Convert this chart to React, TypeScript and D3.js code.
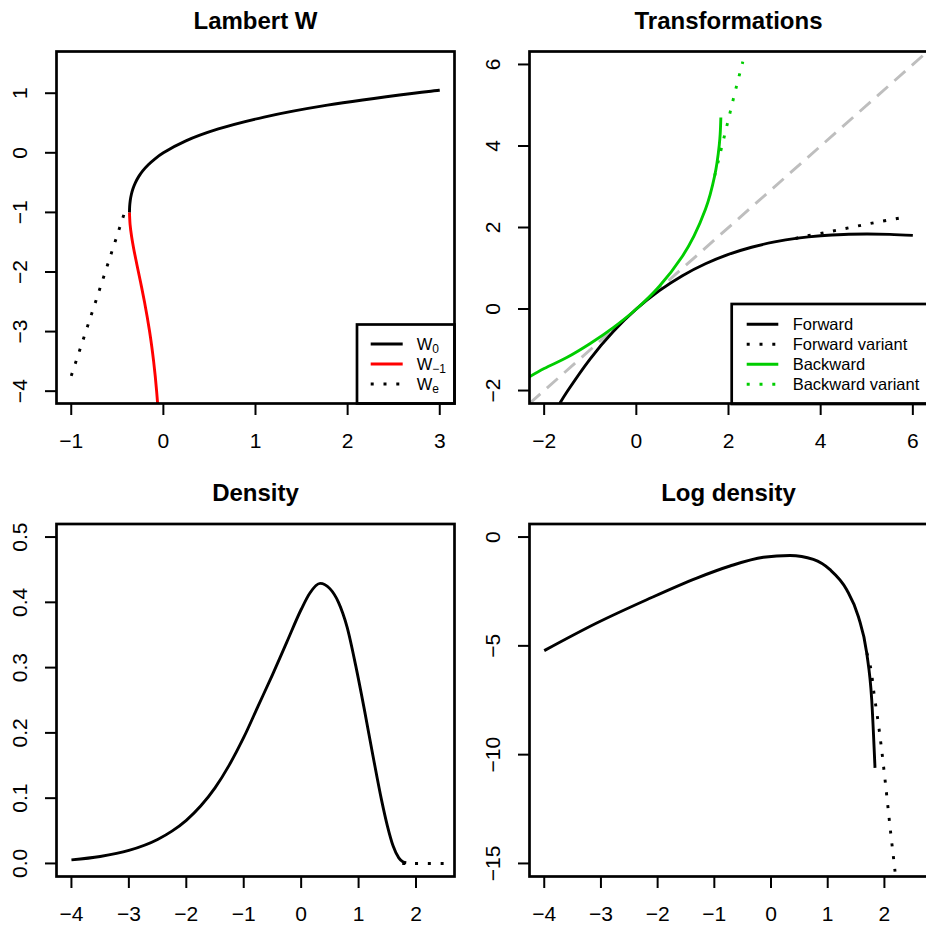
import React from 'react';
import * as d3 from 'd3';

const WIDTH = 926;
const HEIGHT = 925;
const FONT = "'Liberation Sans', Arial, Helvetica, sans-serif";

// ---------- Panel 1: Lambert W ----------
const w0X = [-0.3679, -0.3659, -0.3595, -0.3476, -0.3293, -0.3033, -0.2681, -0.2222, -0.1637, -0.0905, 0, 0.2443, 0.5967, 1.0933, 1.7804, 2.7183, 3.0];
const w0Y = [-1, -0.9, -0.8, -0.7, -0.6, -0.5, -0.4, -0.3, -0.2, -0.1, 0, 0.2, 0.4, 0.6, 0.8, 1.0, 1.05];
const wm1X = [-0.3679, -0.3614, -0.3452, -0.323, -0.2975, -0.2707, -0.2371, -0.2052, -0.1758, -0.1494, -0.126, -0.1057, -0.0882, -0.0733, -0.0606];
const wm1Y = [-1, -1.2, -1.4, -1.6, -1.8, -2, -2.25, -2.5, -2.75, -3, -3.25, -3.5, -3.75, -4, -4.25];
const weX = [-1, -0.741, -0.397];
const weY = [-3.744, -2.525, -0.887];
const p1XTicks = [-1, 0, 1, 2, 3];
const p1YTicks = [-4, -3, -2, -1, 0, 1];

// ---------- Panel 2: Transformations ----------
const fwdX = [-1.66, -1.5, -1, -0.5, 0, 0.5, 1, 1.5, 2, 2.5, 3, 3.5, 4, 4.5, 5, 5.5, 6];
const fwdY = [-2.314, -2.025, -1.221, -0.553, 0, 0.452, 0.819, 1.111, 1.341, 1.516, 1.646, 1.738, 1.797, 1.83, 1.839, 1.831, 1.807];
const fwdVarX = [3.45, 3.59, 4.13, 4.67, 5.21, 5.76];
const fwdVarY = [1.73, 1.77, 1.884, 2.006, 2.129, 2.241];
const bwdX = [-2.318, -2, -1.5, -1, -0.5, 0, 0.5, 1, 1.25, 1.5, 1.6, 1.7, 1.75, 1.8, 1.82, 1.834];
const bwdY = [-1.662, -1.461, -1.184, -0.845, -0.456, 0, 0.559, 1.296, 1.787, 2.447, 2.801, 3.268, 3.583, 4.025, 4.3, 4.7];
const bwdVarX = [1.7, 1.784, 1.912, 2.042, 2.173, 2.311];
const bwdVarY = [3.27, 3.653, 4.248, 4.859, 5.464, 6.068];
const identX = [-2.318, 6.318];
const p2Ticks = [-2, 0, 2, 4, 6];

// ---------- Panel 3: Density ----------
const densX = [-4.0, -3.5, -3.0, -2.5, -2.25, -2.0, -1.75, -1.5, -1.25, -1.0, -0.75, -0.5, -0.25, 0.0, 0.15, 0.33, 0.5, 0.65, 0.8, 0.95, 1.1, 1.25, 1.4, 1.5, 1.6, 1.7, 1.77, 1.83];
const densY = [0.0055, 0.0106, 0.0199, 0.0367, 0.0495, 0.0661, 0.088, 0.1158, 0.151, 0.193, 0.241, 0.289, 0.339, 0.389, 0.414, 0.429, 0.421, 0.4, 0.362, 0.303, 0.236, 0.165, 0.097, 0.058, 0.027, 0.0085, 0.0025, 0.001];
const densVarX = [1.76, 2.5];
const densVarY = [0, 0];
const p3XTicks = [-4, -3, -2, -1, 0, 1, 2];
const p3YTicks = [0, 0.1, 0.2, 0.3, 0.4, 0.5];

// ---------- Panel 4: Log density ----------
const ldX = [-4.0, -3.074, -2.192, -1.31, -0.723, -0.135, 0.335, 0.746, 1.041, 1.335, 1.54, 1.688, 1.776, 1.834];
const ldY = [-5.22, -3.95, -2.88, -1.885, -1.33, -0.93, -0.845, -1.03, -1.5, -2.42, -3.65, -5.33, -7.47, -10.61];
const ldVarX = [1.69, 1.758, 1.817, 1.882, 1.94, 2.016, 2.111, 2.187, 2.21];
const ldVarY = [-5.33, -6.02, -7.2, -8.36, -9.53, -11.27, -13.6, -15.36, -16];
const p4XTicks = [-4, -3, -2, -1, 0, 1, 2];
const p4YTicks = [-15, -10, -5, 0];

const legend1 = ['0', '\u22121', 'e'];
const legend2 = ['Forward', 'Forward variant', 'Backward', 'Backward variant'];

const LW = 2.9;
const DOT = '3 9.8';
const DASH = '14.5 8.7';
const TICK_FS = 21;
const LEG_FS = 16.5;

type Box = { l: number; r: number; t: number; b: number };
type Sc = d3.ScaleLinear<number, number>;

const fmtMinus = (v: number, digits = 0) => {
  const s = digits > 0 ? Math.abs(v).toFixed(digits) : String(Math.abs(v));
  return v < 0 ? '\u2212' + s : s;
};

function linePath(xs: number[], ys: number[], x: Sc, y: Sc, curve: d3.CurveFactory = d3.curveCatmullRom.alpha(0.5)) {
  return d3
    .line<number>()
    .x((_, i) => x(xs[i]))
    .y((_, i) => y(ys[i]))
    .curve(curve)(xs) as string;
}

function Panel(props: {
  id: string;
  box: Box;
  xDom: [number, number];
  yDom: [number, number];
  xTicks: number[];
  yTicks: number[];
  yDigits?: number;
  title: string;
  render: (x: Sc, y: Sc) => React.ReactNode;
  overlay?: (x: Sc, y: Sc) => React.ReactNode;
}) {
  const { id, box, xDom, yDom, xTicks, yTicks, yDigits = 0, title, render, overlay } = props;
  const x = d3.scaleLinear().domain(xDom).range([box.l, box.r]);
  const y = d3.scaleLinear().domain(yDom).range([box.b, box.t]);
  const cx = (box.l + box.r) / 2;
  return (
    <g>
      <defs>
        <clipPath id={id}>
          <rect x={box.l} y={box.t} width={box.r - box.l} height={box.b - box.t} />
        </clipPath>
      </defs>
      <text x={cx} y={box.t - 23} textAnchor="middle" fontFamily={FONT} fontWeight="bold" fontSize={24}>
        {title}
      </text>
      <g clipPath={`url(#${id})`}>{render(x, y)}</g>
      {overlay ? overlay(x, y) : null}
      <rect x={box.l} y={box.t} width={box.r - box.l} height={box.b - box.t} fill="none" stroke="#000" strokeWidth={2.7} />
      {xTicks.map((t) => (
        <g key={'x' + t}>
          <line x1={x(t)} x2={x(t)} y1={box.b} y2={box.b + 11.5} stroke="#000" strokeWidth={2} />
          <text x={x(t)} y={box.b + 44.5} textAnchor="middle" fontFamily={FONT} fontSize={TICK_FS}>
            {fmtMinus(t)}
          </text>
        </g>
      ))}
      {yTicks.map((t) => (
        <g key={'y' + t}>
          <line x1={box.l - 11.5} x2={box.l} y1={y(t)} y2={y(t)} stroke="#000" strokeWidth={2} />
          <text
            transform={`translate(${box.l - 29.5},${y(t)}) rotate(-90)`}
            textAnchor="middle"
            fontFamily={FONT}
            fontSize={TICK_FS}
          >
            {fmtMinus(t, yDigits)}
          </text>
        </g>
      ))}
    </g>
  );
}

export default function App() {
  const leftCol = { l: 56.5, r: 454.5 };
  const rightCol = { l: 529.5, r: 927.5 };
  const topRow = { t: 51.5, b: 403.5 };
  const botRow = { t: 524, b: 876.5 };

  const p1Legend = (
    <g>
      <rect x={357} y={324.5} width={454.5 - 357} height={403.5 - 324.5} fill="#fff" stroke="#000" strokeWidth={2.7} />
      {legend1.map((sub, i) => {
        const yy = 344 + i * 20;
        const color = i === 1 ? '#FF0000' : '#000';
        return (
          <g key={sub}>
            <line x1={370.7} x2={402.7} y1={yy} y2={yy} stroke={color} strokeWidth={LW} strokeDasharray={i === 2 ? DOT : undefined} />
            <text x={416.7} y={yy + 6} fontFamily={FONT} fontSize={LEG_FS}>
              W
              <tspan fontSize={12} dy={3}>
                {sub}
              </tspan>
            </text>
          </g>
        );
      })}
    </g>
  );

  const p2Legend = (
    <g>
      <rect x={731.7} y={304} width={927.5 - 731.7} height={404 - 304} fill="#fff" stroke="#000" strokeWidth={2.7} />
      {legend2.map((lab, i) => {
        const yy = 324.3 + i * 20;
        const color = i < 2 ? '#000' : '#00CD00';
        return (
          <g key={lab}>
            <line x1={746.7} x2={778.3} y1={yy} y2={yy} stroke={color} strokeWidth={LW} strokeDasharray={i % 2 === 1 ? DOT : undefined} />
            <text x={792.7} y={yy + 5.8} fontFamily={FONT} fontSize={LEG_FS}>
              {lab}
            </text>
          </g>
        );
      })}
    </g>
  );

  return (
    <svg
      width={WIDTH}
      height={HEIGHT}
      style={{ position: 'absolute', left: 0, top: 0, background: '#fff' }}
      xmlns="http://www.w3.org/2000/svg"
    >
      <rect x={0} y={0} width={WIDTH} height={HEIGHT} fill="#fff" />
      <Panel
        id="c1"
        box={{ ...leftCol, ...topRow }}
        xDom={[-1.16, 3.16]}
        yDom={[-4.207, 1.7]}
        xTicks={p1XTicks}
        yTicks={p1YTicks}
        title="Lambert W"
        render={(x, y) => (
          <g fill="none" strokeWidth={LW}>
            <path d={linePath(wm1X, wm1Y, x, y)} stroke="#FF0000" />
            <path d={linePath(weX, weY, x, y, d3.curveLinear)} stroke="#000" strokeDasharray={DOT} />
            <path d={linePath(w0X, w0Y, x, y)} stroke="#000" />
          </g>
        )}
        overlay={() => p1Legend}
      />
      <Panel
        id="c2"
        box={{ ...rightCol, ...topRow }}
        xDom={[-2.318, 6.318]}
        yDom={[-2.318, 6.318]}
        xTicks={p2Ticks}
        yTicks={p2Ticks}
        title="Transformations"
        render={(x, y) => (
          <g fill="none" strokeWidth={LW}>
            <path d={linePath(identX, identX, x, y, d3.curveLinear)} stroke="#BEBEBE" strokeDasharray={DASH} />
            <path d={linePath(fwdX, fwdY, x, y)} stroke="#000" />
            <path d={linePath(fwdVarX, fwdVarY, x, y)} stroke="#000" strokeDasharray={DOT} />
            <path d={linePath(bwdX, bwdY, x, y)} stroke="#00CD00" />
            <path d={linePath(bwdVarX, bwdVarY, x, y)} stroke="#00CD00" strokeDasharray={DOT} />
          </g>
        )}
        overlay={() => p2Legend}
      />
      <Panel
        id="c3"
        box={{ ...leftCol, ...botRow }}
        xDom={[-4.26, 2.67]}
        yDom={[-0.02, 0.52]}
        xTicks={p3XTicks}
        yTicks={p3YTicks}
        yDigits={1}
        title="Density"
        render={(x, y) => (
          <g fill="none" strokeWidth={LW}>
            <path d={linePath(densX, densY, x, y, d3.curveMonotoneX)} stroke="#000" />
            <path d={linePath(densVarX, densVarY, x, y, d3.curveLinear)} stroke="#000" strokeDasharray={DOT} />
          </g>
        )}
      />
      <Panel
        id="c4"
        box={{ ...rightCol, ...botRow }}
        xDom={[-4.26, 2.76]}
        yDom={[-15.6, 0.6]}
        xTicks={p4XTicks}
        yTicks={p4YTicks}
        title="Log density"
        render={(x, y) => (
          <g fill="none" strokeWidth={LW}>
            <path d={linePath(ldX, ldY, x, y, d3.curveMonotoneX)} stroke="#000" />
            <path d={linePath(ldVarX, ldVarY, x, y)} stroke="#000" strokeDasharray={DOT} />
          </g>
        )}
      />
    </svg>
  );
}
